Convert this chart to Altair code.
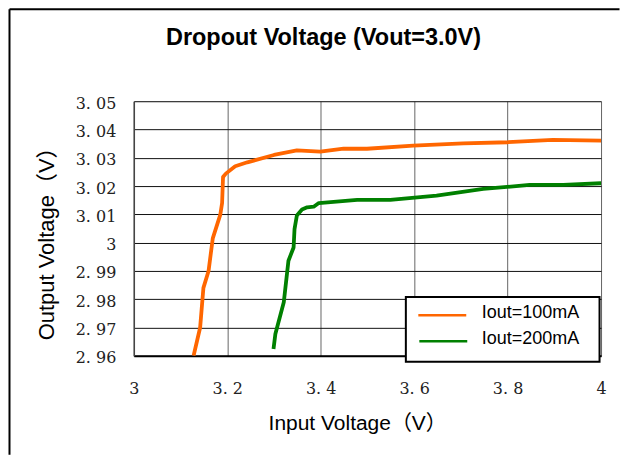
import altair as alt
import pandas as pd

# ---- data ----
series_names = ["Iout=100mA", "Iout=200mA"]
series_colors = ["#FF6600", "#008000"]

vin_100 = [3.128, 3.142, 3.149, 3.160, 3.169, 3.185, 3.189, 3.191, 3.197, 3.217,
           3.243, 3.300, 3.349, 3.399, 3.449, 3.499, 3.598, 3.705, 3.801, 3.897, 4.0]
vout_100 = [2.960, 2.970, 2.984, 2.990, 3.0015, 3.0098, 3.0140, 3.0232, 3.0244, 3.0270,
            3.0284, 3.0310, 3.0326, 3.0322, 3.0332, 3.0332, 3.0343, 3.0351, 3.0355, 3.0363, 3.0361]

vin_200 = [3.299, 3.303, 3.321, 3.331, 3.342, 3.344, 3.349, 3.360, 3.371, 3.385,
           3.396, 3.478, 3.549, 3.648, 3.748, 3.847, 3.919, 4.0]
vout_200 = [2.9624, 2.9677, 2.9789, 2.9936, 2.9983, 3.0048, 3.0096, 3.0117, 3.0125, 3.0127,
            3.0140, 3.0151, 3.0151, 3.0166, 3.0190, 3.0204, 3.0204, 3.0210]

x_ticks = [3.0, 3.2, 3.4, 3.6, 3.8, 4.0]
y_ticks = [2.96, 2.97, 2.98, 2.99, 3.0, 3.01, 3.02, 3.03, 3.04, 3.05]

title_text = "Dropout Voltage (Vout=3.0V)"
x_title = "Input Voltage（V）"
y_title = "Output Voltage（V）"

rows = []
for name, xs, ys in [(series_names[0], vin_100, vout_100), (series_names[1], vin_200, vout_200)]:
    for i, (a, b) in enumerate(zip(xs, ys)):
        rows.append({"series": name, "vin": a, "vout": b, "idx": i})
df = pd.DataFrame(rows)

W, H = 468, 255
SANS = "Liberation Sans, Noto Sans CJK SC"
SERIF = "DejaVu Serif"

xscale = alt.Scale(domain=[3.0, 4.0], nice=False, zero=False)
yscale = alt.Scale(domain=[2.96, 3.05], nice=False, zero=False)
cscale = alt.Scale(domain=series_names, range=series_colors)

lines = alt.Chart(df).mark_line(strokeWidth=3.8, clip=True, strokeJoin="round").encode(
    x=alt.X("vin:Q", scale=xscale,
            axis=alt.Axis(values=x_ticks, format=".1~f",
                          labelExpr="replace(datum.label, '.', '. ')",
                          title=x_title, titleFont=SANS, titleFontSize=21,
                          titleFontWeight="normal", titleColor="#000",
                          titleX=134.5, titleY=74, titleAlign="left",
                          titleBaseline="alphabetic",
                          labelFont=SERIF, labelFontSize=16, labelColor="#222",
                          labelBaseline="middle", labelPadding=33, labelFlush=False,
                          ticks=False, grid=True, gridColor="#666", gridWidth=1,
                          domainColor="#000", domainWidth=2)),
    y=alt.Y("vout:Q", scale=yscale,
            axis=alt.Axis(values=y_ticks, format=".2~f",
                          labelExpr="replace(datum.label, '.', '. ')",
                          title=y_title, titleFont=SANS, titleFontSize=22,
                          titleFontWeight="normal", titleColor="#000",
                          titleX=-80.5, titleY=239, titleAlign="left",
                          titleBaseline="alphabetic", titleAngle=270,
                          labelFont=SERIF, labelFontSize=16, labelColor="#222",
                          labelPadding=18, labelOffset=2, labelFlush=False,
                          ticks=False, grid=True, gridColor="#111", gridWidth=1,
                          domainColor="#444", domainWidth=1.5)),
    color=alt.Color("series:N", scale=cscale, legend=None),
    order=alt.Order("idx:Q"),
)

one = alt.Data(values=[{}])

# chart title drawn as a text mark
title_mark = alt.Chart(one).mark_text(text=title_text, font="Liberation Sans", fontSize=23.5,
                                      fontWeight="bold", color="#000", align="center",
                                      baseline="alphabetic").encode(
    x=alt.value(190), y=alt.value(-56))

# outer frame (top and left edges)
frame_top = alt.Chart(one).mark_rule(color="#000", strokeWidth=2).encode(
    x=alt.value(-124.5), x2=alt.value(486.5), y=alt.value(-92))
frame_left = alt.Chart(one).mark_rule(color="#000", strokeWidth=2).encode(
    x=alt.value(-124.5), y=alt.value(-92), y2=alt.value(354))

# manual legend box
legend_box = alt.Chart(one).mark_rect(fill="white", stroke="#000", strokeWidth=2).encode(
    x=alt.value(272.5), x2=alt.value(466.5), y=alt.value(196), y2=alt.value(261))

legend_layers = []
row_y = [214.5, 240.5]
for i, name in enumerate(series_names):
    legend_layers.append(
        alt.Chart(one).mark_rule(color=series_colors[i], strokeWidth=2.5).encode(
            x=alt.value(285 + i), x2=alt.value(333 + i), y=alt.value(row_y[i])))
    legend_layers.append(
        alt.Chart(one).mark_text(text=name, font="Liberation Sans", fontSize=18,
                                 align="left", baseline="middle", color="#000").encode(
            x=alt.value(348.5), y=alt.value(row_y[i] - 2)))

chart = alt.layer(lines, title_mark, frame_top, frame_left, legend_box, *legend_layers).properties(
    width=W, height=H, padding=0,
).configure_view(stroke="#777", strokeWidth=1.5).configure(background="white")

chart.save("out.html", embed_options={"renderer": "svg", "actions": False})
